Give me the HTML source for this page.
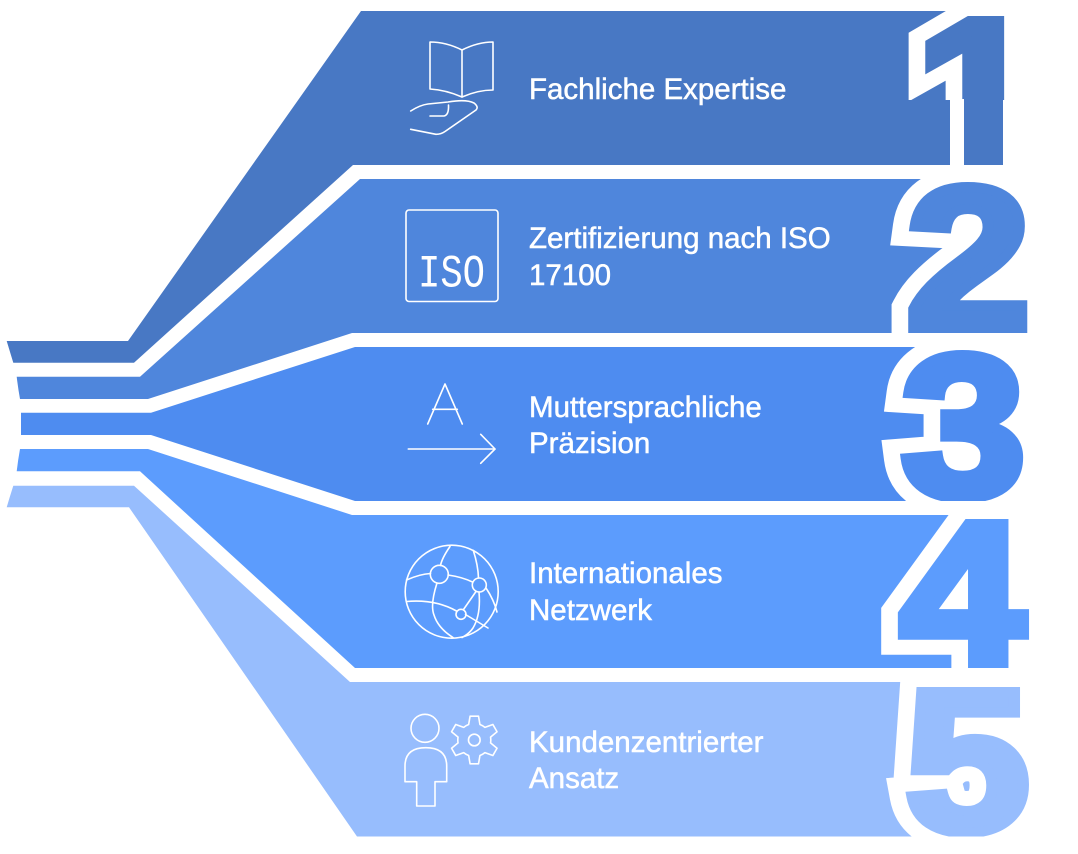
<!DOCTYPE html>
<html>
<head>
<meta charset="utf-8">
<style>
html,body{margin:0;padding:0;background:#ffffff;}
body{width:1078px;height:854px;overflow:hidden;}
svg{display:block;}
.lbl{font-family:"Liberation Sans",Arial,sans-serif;font-size:29.5px;fill:#ffffff;stroke:#ffffff;stroke-width:0.5px;}
.dA{font-family:"Liberation Sans",Arial,sans-serif;font-weight:bold;font-size:202px;fill:#ffffff;stroke:#ffffff;stroke-width:40px;stroke-linejoin:miter;}
.dB{font-family:"Liberation Sans",Arial,sans-serif;font-weight:bold;font-size:202px;stroke-width:10px;stroke-linejoin:miter;}
.ic{fill:none;stroke:#ffffff;stroke-width:1.6;stroke-linecap:round;stroke-linejoin:round;}
</style>
</head>
<body>
<svg width="1078" height="854" viewBox="0 0 1078 854" xmlns="http://www.w3.org/2000/svg">
  <defs>
    <clipPath id="c1"><rect x="0" y="11" width="1078" height="89"/></clipPath>
    <clipPath id="c2"><rect x="0" y="179" width="1078" height="154"/></clipPath>
    <clipPath id="c3"><rect x="0" y="347" width="1078" height="154"/></clipPath>
    <clipPath id="c4"><rect x="0" y="515" width="1078" height="153"/></clipPath>
    <clipPath id="c5"><rect x="0" y="682" width="1078" height="154.5"/></clipPath>
  </defs>

  <!-- Band 1 -->
  <path d="M361,11 L1003,11 L1003,165 L353,165 L134,362.7 L13.3,362.7 Q10,352 6.7,341 L128,341 Z" fill="#4878C4"/>
  <!-- Band 2 -->
  <path d="M360,179 L1003,179 L1003,333 L352,333 L148,399 L20,399 Q18,388 16.7,376.7 L140,376.7 Z" fill="#4F86DC"/>
  <!-- Band 3 -->
  <path d="M355,347 L1003,347 L1003,501 L355,501 L151,435 L21,435 L21,412.7 L151,412.7 Z" fill="#4E8CF0"/>
  <!-- Band 4 -->
  <path d="M352,515 L1003,515 L1003,668 L355,668 L140,471.3 L16.7,471.3 Q18,460 20,449 L148,449 Z" fill="#5C9CFD"/>
  <!-- Band 5 -->
  <path d="M350,682 L1003,682 L1003,836.5 L357,836.5 L129,507.3 L6.7,507.3 Q10,496 13.3,485.7 L134,485.7 Z" fill="#97BDFD"/>

  <!-- Digits -->
  <g clip-path="url(#c1)">
    <g transform="translate(915.5,160) scale(1.11,1)">
      <text class="dA">1</text>
      <text class="dB" fill="#4878C4" stroke="#4878C4">1</text>
    </g>
  </g>
  <rect x="950" y="99" width="14" height="66" fill="#ffffff"/>

  <g clip-path="url(#c2)">
    <g transform="translate(906,328) scale(1.11,1)">
      <text class="dA">2</text>
      <text class="dB" fill="#4F86DC" stroke="#4F86DC">2</text>
    </g>
  </g>
  <g clip-path="url(#c3)">
    <g transform="translate(901,496) scale(1.11,1)">
      <text class="dA">3</text>
      <text class="dB" fill="#4E8CF0" stroke="#4E8CF0">3</text>
    </g>
  </g>
  <g clip-path="url(#c4)">
    <g transform="translate(900,663) scale(1.11,1)">
      <text class="dA">4</text>
      <text class="dB" fill="#5C9CFD" stroke="#5C9CFD">4</text>
    </g>
  </g>
  <g clip-path="url(#c5)">
    <g transform="translate(905,831) scale(1.11,1)">
      <text class="dA">5</text>
      <text class="dB" fill="#97BDFD" stroke="#97BDFD">5</text>
    </g>
  </g>

  <!-- Icon 1: book in hand -->
  <g class="ic">
    <path d="M430,42 Q446,42 462,50 Q478,42 493,42 L493,90 Q478,90 462,97 Q446,90 430,89 Z"/>
    <path d="M462,50 L462,97"/>
    <path d="M410.7,111 Q420,105 428,104 L448,102 Q466,99 474,103 Q479,107 476,110 L445,131.5 Q441,134.3 436,134.3 L410.7,129.3"/>
    <path d="M430,116 L444,116 Q449,115 448.5,105"/>
  </g>

  <!-- Icon 2: ISO -->
  <rect x="406" y="210" width="92" height="91.5" rx="3" ry="3" class="ic"/>
  <text x="418" y="286.5" textLength="67" lengthAdjust="spacingAndGlyphs" style="font-family:'Liberation Mono',monospace;font-size:46px;fill:#ffffff;">ISO</text>

  <!-- Icon 3: A -> -->
  <g class="ic">
    <path d="M427.7,424 L445,384 L462.3,424"/>
    <path d="M432.7,409.3 L457.3,409.3"/>
    <path d="M408.3,449 L495,449"/>
    <path d="M480.7,434.3 L495,449 L480.7,463.3"/>
  </g>

  <!-- Icon 4: globe network -->
  <g class="ic">
    <circle cx="451.7" cy="591.7" r="46.5"/>
    <path d="M450,546.5 Q442,558 440.5,565.5"/>
    <path d="M437,583 Q430,605 434,615 Q438,628 453,637.5"/>
    <path d="M473.3,550.5 Q478,565 478.5,578"/>
    <path d="M479,592 Q481,615 473,628 Q469,634 462,637.5"/>
    <path d="M406.5,580 Q420,574 430.5,573.5"/>
    <path d="M448,575 Q462,577 472.5,582"/>
    <path d="M486,588 Q494,600 497,612"/>
    <path d="M406.5,601.5 Q435,599 456.5,611"/>
    <path d="M465.5,614.5 Q478,622 488,628"/>
    <path d="M476,591.5 L463.5,609.5"/>
    <circle cx="439.3" cy="574.3" r="9"/>
    <circle cx="479.3" cy="585" r="7"/>
    <circle cx="461" cy="614.3" r="5"/>
  </g>

  <!-- Icon 5: person + gear -->
  <g class="ic">
    <circle cx="425" cy="728.3" r="14"/>
    <path d="M405,781.7 L405,766 Q405,747.7 425.8,747.7 Q446.7,747.7 446.7,766 L446.7,781.7 L435,781.7 L435,806 L416.7,806 L416.7,781.7 Z"/>
    <g transform="translate(474.3,740) scale(1.1)">
      <path vector-effect="non-scaling-stroke" d="M-5.13,-14.10 L-3.82,-21.67 L3.82,-21.67 L5.13,-14.10 A15,15 0 0 1 9.64,-11.49 L16.85,-14.14 L20.67,-7.52 L14.77,-2.60 A15,15 0 0 1 14.77,2.60 L20.67,7.52 L16.85,14.14 L9.64,11.49 A15,15 0 0 1 5.13,14.10 L3.82,21.67 L-3.82,21.67 L-5.13,14.10 A15,15 0 0 1 -9.64,11.49 L-16.85,14.14 L-20.67,7.52 L-14.77,2.60 A15,15 0 0 1 -14.77,-2.60 L-20.67,-7.52 L-16.85,-14.14 L-9.64,-11.49 A15,15 0 0 1 -5.13,-14.10 Z"/>
      <circle vector-effect="non-scaling-stroke" cx="0" cy="0" r="5.3"/>
    </g>
  </g>

  <!-- Labels -->
  <text class="lbl" x="529" y="99">Fachliche Expertise</text>
  <text class="lbl" x="529" y="248">Zertifizierung nach ISO</text>
  <text class="lbl" x="529" y="285">17100</text>
  <text class="lbl" x="529" y="417">Muttersprachliche</text>
  <text class="lbl" x="529" y="453">Präzision</text>
  <text class="lbl" x="529" y="583">Internationales</text>
  <text class="lbl" x="529" y="620">Netzwerk</text>
  <text class="lbl" x="529" y="752">Kundenzentrierter</text>
  <text class="lbl" x="529" y="788">Ansatz</text>
</svg>
</body>
</html>
